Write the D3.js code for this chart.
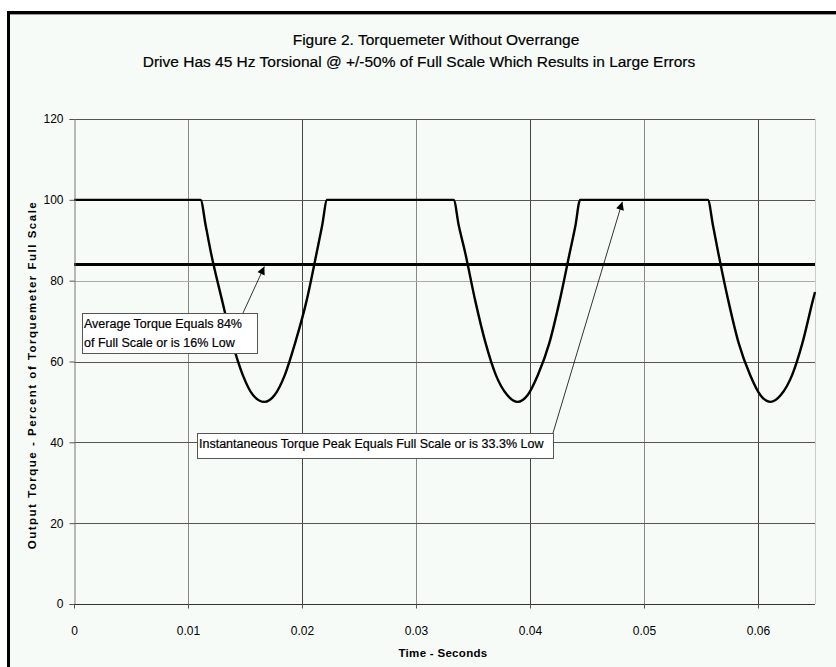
<!DOCTYPE html>
<html><head><meta charset="utf-8">
<script src="https://cdn.jsdelivr.net/npm/d3@7"></script>
<style>
html,body{margin:0;padding:0;background:#fff;}
svg{display:block;}
text{font-family:"Liberation Sans",Arial,sans-serif;fill:#000;}
</style></head>
<body>
<svg id="chart" width="836" height="667"></svg>
<script>
// ---- data ----
const titleLines = ["Figure 2. Torquemeter Without Overrange",
  "Drive Has 45 Hz Torsional @ +/-50% of Full Scale Which Results in Large Errors"];
const xLabel = "Time - Seconds";
const yLabel = "Output Torque - Percent of Torquemeter Full Scale";
const xTicks = [0, 0.01, 0.02, 0.03, 0.04, 0.05, 0.06];
const yTicks = [0, 20, 40, 60, 80, 100, 120];
const timeSec = [0, 0.0111, 0.01156, 0.0120, 0.0130, 0.0139, 0.0148, 0.0157, 0.0167, 0.0176, 0.0185, 0.0194, 0.0204, 0.0213, 0.02176, 0.0222,
  0.0333, 0.03376, 0.0343, 0.0352, 0.0361, 0.0370, 0.0380, 0.0389, 0.0398, 0.0407, 0.0417, 0.0426, 0.0435, 0.04398, 0.0444,
  0.0556, 0.05606, 0.0565, 0.0574, 0.0583, 0.0593, 0.0602, 0.0611, 0.0620, 0.0630, 0.0639, 0.0648, 0.0650];
const torque = [100, 100, 93.5, 87.1, 75, 64.6, 56.7, 51.7, 50, 51.7, 56.7, 64.6, 75, 87.1, 93.5, 100,
  100, 93.5, 87.1, 75, 64.6, 56.7, 51.7, 50, 51.7, 56.7, 64.6, 75, 87.1, 93.5, 100,
  100, 93.5, 87.1, 75, 64.6, 56.7, 51.7, 50, 51.7, 56.7, 64.6, 75, 77.2];
const avgTime = [0, 0.065];
const avgTorque = [84, 84];
const note1 = ["Average Torque Equals 84%", "of Full Scale or is 16% Low"];
const note1Target = [0.0167, 84];
const note2 = ["Instantaneous Torque Peak Equals Full Scale or is 33.3% Low"];
const note2Target = [0.0481, 100];

// ---- layout ----
const svg = d3.select("#chart");
const W = 836, H = 667;
const m = {left: 74, right: 21, top: 119, bottom: 63};

// background & frame
svg.append("rect").attr("x", 7).attr("y", 11).attr("width", W - 7).attr("height", H - 11).attr("fill", "#f6fbf8");
svg.append("line").attr("x1", 7).attr("x2", W).attr("y1", 12.5).attr("y2", 12.5).attr("stroke", "#000").attr("stroke-width", 3);
svg.append("line").attr("x1", 8.5).attr("x2", 8.5).attr("y1", 11).attr("y2", H).attr("stroke", "#000").attr("stroke-width", 3);
svg.append("line").attr("x1", 10).attr("x2", W).attr("y1", 14.5).attr("y2", 14.5).attr("stroke", "#999").attr("stroke-width", 1);

const x = d3.scaleLinear().domain([0, 0.065]).range([m.left, W - m.right]);
const y = d3.scaleLinear().domain([0, 120]).range([H - m.bottom, m.top]);

const g = svg.append("g");

// gridlines
g.selectAll(".vg").data(xTicks.slice(1)).join("line")
  .attr("x1", d => Math.round(x(d)) + 0.5).attr("x2", d => Math.round(x(d)) + 0.5)
  .attr("y1", y(120)).attr("y2", y(0)).attr("stroke", (d, i) => i % 2 ? "#444" : "#888").attr("stroke-width", 1);
g.selectAll(".hg").data(yTicks.slice(1)).join("line")
  .attr("x1", x(0)).attr("x2", x(0.065))
  .attr("y1", d => Math.round(y(d)) + 0.5).attr("y2", d => Math.round(y(d)) + 0.5)
  .attr("stroke", d => d === 80 ? "#aaa" : "#555").attr("stroke-width", 1);
g.append("line").attr("x1", Math.round(x(0.065)) + 0.5).attr("x2", Math.round(x(0.065)) + 0.5)
  .attr("y1", y(120)).attr("y2", y(0)).attr("stroke", "#ccc");

// axes
const yAxis = d3.axisLeft(y).tickValues(yTicks).tickSize(5).tickPadding(6).tickFormat(d3.format("d"));
const ya = svg.append("g").attr("transform", `translate(${Math.round(x(0)) + 0.5},0)`).call(yAxis);
ya.select(".domain").attr("stroke", "#777");
ya.selectAll(".tick line").attr("stroke", "#555");
ya.selectAll("text").style("font-size", "12px").style("font-family", '"Liberation Sans",Arial,sans-serif');

const xAxis = d3.axisBottom(x).tickValues(xTicks).tickSize(4).tickPadding(18)
  .tickFormat(d => d === 0 ? "0" : d3.format(".2f")(d));
const xa = svg.append("g").attr("transform", `translate(0,${Math.round(y(0)) + 0.5})`).call(xAxis);
xa.select(".domain").attr("stroke", "#333").attr("d", `M${x(0)},0H${x(0.065)}`);
xa.selectAll(".tick line").attr("stroke", "#555");
xa.selectAll("text").style("font-size", "12px").style("font-family", '"Liberation Sans",Arial,sans-serif');

// series
const pts = timeSec.map((t, i) => [t, torque[i]]);
const line = d3.line().x(d => x(d[0])).y(d => y(d[1])).curve(d3.curveMonotoneX);
g.append("path").attr("d", line(pts)).attr("fill", "none").attr("stroke", "#000").attr("stroke-width", 2.4);
const avgPts = avgTime.map((t, i) => [t, avgTorque[i]]);
g.append("path").attr("d", d3.line().x(d => x(d[0])).y(d => y(d[1]))(avgPts))
  .attr("fill", "none").attr("stroke", "#000").attr("stroke-width", 3);

// annotations
svg.append("defs").append("marker").attr("id", "arr").attr("viewBox", "0 0 10 10")
  .attr("refX", 10).attr("refY", 5).attr("markerWidth", 11).attr("markerHeight", 8)
  .attr("markerUnits", "userSpaceOnUse").attr("orient", "auto")
  .append("path").attr("d", "M0,0L10,5L0,10Z").attr("fill", "#000");

function note(lines, bx, by, bw, bh, fromX, fromY, target) {
  svg.append("line").attr("x1", fromX).attr("y1", fromY)
    .attr("x2", x(target[0])).attr("y2", y(target[1]) + 2)
    .attr("stroke", "#000").attr("stroke-width", 0.8).attr("marker-end", "url(#arr)");
  svg.append("rect").attr("x", bx + 0.5).attr("y", by + 0.5).attr("width", bw).attr("height", bh)
    .attr("fill", "#fff").attr("stroke", "#555").attr("stroke-width", 1);
  lines.forEach((s, i) => {
    svg.append("text").attr("x", bx + 2).attr("y", by + 15 + i * 19)
      .style("font-size", "12.5px").style("stroke", "#000").style("stroke-width", "0.2px").text(s);
  });
}
note(note1, 82, 313, 175, 40, 243, 313, note1Target);
note(note2, 197, 433, 356, 25, 553, 433, note2Target);

// titles
svg.append("text").attr("x", 436).attr("y", 45).attr("text-anchor", "middle")
  .style("font-size", "15.5px").style("stroke", "#000").style("stroke-width", "0.2px").text(titleLines[0]);
svg.append("text").attr("x", 419).attr("y", 67).attr("text-anchor", "middle")
  .style("font-size", "15.5px").style("stroke", "#000").style("stroke-width", "0.2px").text(titleLines[1]);
svg.append("text").attr("x", 443).attr("y", 657).attr("text-anchor", "middle")
  .style("font-size", "11.5px").style("font-weight", "bold").style("letter-spacing", "0.3px").text(xLabel);
svg.append("text").attr("transform", "translate(36,375) rotate(-90)").attr("text-anchor", "middle")
  .style("font-size", "11.5px").style("font-weight", "bold").style("letter-spacing", "1.5px").text(yLabel);
</script>
</body></html>
